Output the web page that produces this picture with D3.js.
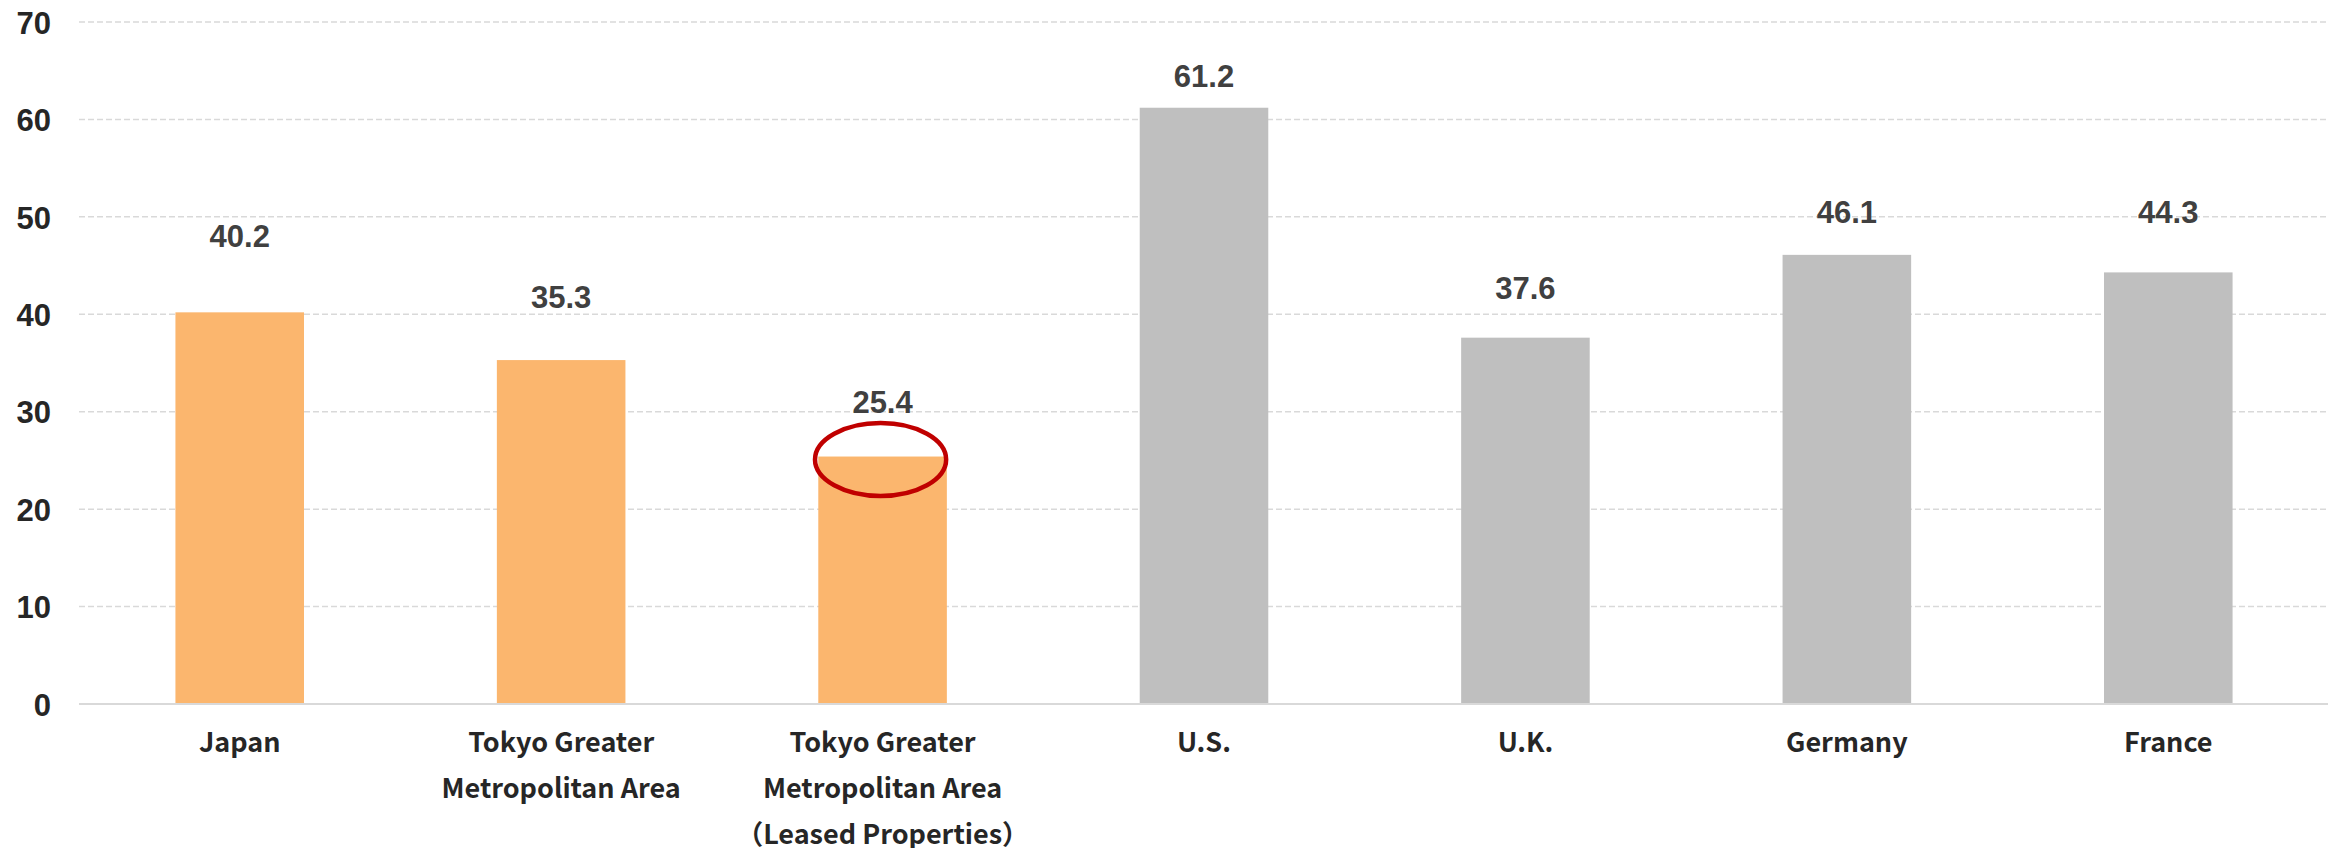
<!DOCTYPE html>
<html>
<head>
<meta charset="utf-8">
<script src="https://cdn.jsdelivr.net/npm/d3@7"></script>
<style>
  html, body { margin: 0; padding: 0; background: #fff; }
  svg { display: block; }
</style>
</head>
<body>
<div id="cont"></div>
<script>
// values
var categories = ["Japan", "Tokyo Greater Metropolitan Area", "Tokyo Greater Metropolitan Area (Leased Properties)", "U.S.", "U.K.", "Germany", "France"];
var labelLines = [
  ["Japan"],
  ["Tokyo Greater", "Metropolitan Area"],
  ["Tokyo Greater", "Metropolitan Area", "（Leased Properties）"],
  ["U.S."], ["U.K."], ["Germany"], ["France"]
];
var values = [40.2, 35.3, 25.4, 61.2, 37.6, 46.1, 44.3];
var groups = ["jp", "jp", "jp", "intl", "intl", "intl", "intl"];
var yTicks = [0, 10, 20, 30, 40, 50, 60, 70];
// where each data label sits (in axis units), labels were hand placed
var labelAt = [46.9, 40.6, 29.9, 63.3, 41.6, 49.4, 49.4];
var highlighted = 2;

var width = 2328, height = 848;
var plotLeft = 79, plotRight = 2329, plotTop = 22, plotBottom = 704;

var color = d3.scaleOrdinal().domain(["jp", "intl"]).range(["#FBB66E", "#BFBFBF"]);

var x = d3.scaleBand()
  .domain(categories)
  .range([plotLeft, plotRight])
  .paddingInner(0.6)
  .paddingOuter(0.3);

var y = d3.scaleLinear()
  .domain([0, 70])
  .range([plotBottom, plotTop]);

var svg = d3.select("#cont")
  .append("svg")
  .attr("width", width)
  .attr("height", height);

// gridlines
svg.append("g")
  .selectAll("line")
  .data(yTicks.filter(function(d) { return d > 0; }))
  .enter()
  .append("line")
  .attr("x1", plotLeft)
  .attr("x2", width)
  .attr("y1", function(d) { return y(d); })
  .attr("y2", function(d) { return y(d); })
  .attr("stroke", "#d9d9d9")
  .attr("stroke-width", 1.5)
  .attr("stroke-dasharray", "6,3");

// y axis labels
var yAxis = d3.axisLeft(y).tickValues(yTicks).tickSize(0).tickPadding(0);
var ya = svg.append("g")
  .attr("transform", "translate(51,0)")
  .call(yAxis);
ya.select(".domain").remove();
ya.selectAll("text")
  .attr("font-family", "'Liberation Sans', Arial, sans-serif")
  .attr("font-weight", "bold")
  .attr("font-size", 31)
  .attr("fill", "#262626")
  .attr("dy", "0.36em");

// bars
svg.append("g")
  .selectAll("rect")
  .data(values)
  .enter()
  .append("rect")
  .attr("x", function(d, i) { return x(categories[i]); })
  .attr("y", function(d) { return y(d); })
  .attr("width", x.bandwidth())
  .attr("height", function(d) { return y(0) - y(d); })
  .style("fill", function(d, i) { return color(groups[i]); });

// zero line
svg.append("line")
  .attr("x1", plotLeft)
  .attr("x2", width)
  .attr("y1", y(0))
  .attr("y2", y(0))
  .attr("stroke", "#d9d9d9")
  .attr("stroke-width", 2);

// data labels
svg.append("g")
  .selectAll("text")
  .data(values)
  .enter()
  .append("text")
  .attr("x", function(d, i) { return x(categories[i]) + x.bandwidth() / 2; })
  .attr("y", function(d, i) { return y(labelAt[i]); })
  .attr("text-anchor", "middle")
  .attr("font-family", "'Liberation Sans', Arial, sans-serif")
  .attr("font-weight", "bold")
  .attr("font-size", 31)
  .attr("fill", "#404040")
  .text(function(d) { return d.toFixed(1); });

// category labels
var cat = svg.append("g")
  .selectAll("text")
  .data(categories)
  .enter()
  .append("text")
  .attr("text-anchor", "middle")
  .attr("font-family", "'Noto Sans CJK JP', 'Noto Sans', sans-serif")
  .attr("font-weight", "bold")
  .attr("font-size", 27)
  .attr("fill", "#262626")
  .attr("transform", function(d) { return "translate(" + (x(d) + x.bandwidth() / 2) + "," + (y(0) + 48) + ")"; });

cat.selectAll("tspan")
  .data(function(d, i) { return labelLines[i]; })
  .enter()
  .append("tspan")
  .attr("x", 0)
  .attr("y", function(d, j) { return j * 46; })
  .text(function(d) { return d; });

// red ellipse round the leased-properties bar top
var hv = values[highlighted];
svg.append("ellipse")
  .attr("cx", x(categories[highlighted]) + x.bandwidth() / 2 - 2)
  .attr("cy", y(hv) + 3)
  .attr("rx", x.bandwidth() * 0.51)
  .attr("ry", 36.5)
  .attr("fill", "none")
  .attr("stroke", "#C00000")
  .attr("stroke-width", 4.5);
</script>
</body>
</html>
